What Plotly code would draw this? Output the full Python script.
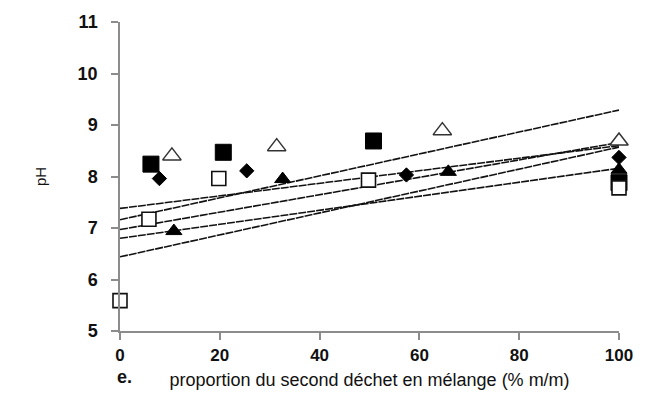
import plotly.graph_objects as go

# Data
x_fsq = [6.2, 20.7, 50.8, 100]
y_fsq = [8.24, 8.47, 8.69, 7.88]

x_otri = [10.4, 31.4, 64.6, 100]
y_otri = [8.40, 8.58, 8.89, 8.69]

x_dia = [7.9, 25.4, 57.4, 100]
y_dia = [7.96, 8.11, 8.03, 8.37]

x_ftri = [10.8, 32.6, 65.8, 100]
y_ftri = [6.94, 7.95, 8.09, 8.13]

x_osq = [0, 5.8, 19.8, 49.8, 100]
y_osq = [5.59, 7.17, 7.96, 7.93, 7.78]

# trend lines: value at x=0 and x=100
line_x = [0, 100]
trend_lines = [
    [7.16, 9.29],
    [7.38, 8.60],
    [6.97, 8.66],
    [6.80, 8.16],
    [6.44, 8.57],
]

x_ticks = [0, 20, 40, 60, 80, 100]
y_ticks = [5, 6, 7, 8, 9, 10, 11]

fig = go.Figure()

for ys in trend_lines:
    fig.add_trace(go.Scatter(x=line_x, y=ys, mode="lines",
                             line=dict(color="#111", width=1.6, dash="8px,1px"),
                             showlegend=False, hoverinfo="skip"))

fig.add_trace(go.Scatter(x=x_fsq, y=y_fsq, mode="markers",
                         marker=dict(symbol="square", size=16, color="black",
                                     line=dict(color="black", width=1))))
fig.add_trace(go.Scatter(x=x_ftri, y=y_ftri, mode="markers",
                         marker=dict(symbol="triangle-up", size=14, color="black",
                                     line=dict(color="black", width=1))))
fig.add_trace(go.Scatter(x=x_dia, y=y_dia, mode="markers",
                         marker=dict(symbol="diamond", size=11, color="black",
                                     line=dict(color="black", width=1))))
fig.add_trace(go.Scatter(x=x_osq, y=y_osq, mode="markers",
                         marker=dict(symbol="square", size=14, color="white",
                                     line=dict(color="#111", width=1.6))))
fig.add_trace(go.Scatter(x=x_otri, y=y_otri, mode="markers",
                         marker=dict(symbol="triangle-up", size=16, color="white",
                                     line=dict(color="#333", width=1.5))))

for tr in fig.data:
    tr.cliponaxis = False

fig.update_layout(
    width=638, height=393,
    margin=dict(l=112, r=27, t=14, b=70, autoexpand=False),
    paper_bgcolor="white", plot_bgcolor="white",
    showlegend=False,
    font=dict(family="Liberation Sans, Arial, sans-serif", color="#111"),
    xaxis=dict(range=[0, 100], tickvals=x_ticks, showgrid=False, zeroline=False,
               automargin=False,
               showline=True, linecolor="#8c8c8c", linewidth=1.5,
               ticks="outside", ticklen=7, tickwidth=1.5, tickcolor="#8c8c8c",
               tickfont=dict(size=17, weight="bold"), ticklabelstandoff=1,
               title=dict(text="proportion du second déchet en mélange (% m/m)",
                          font=dict(size=18), standoff=9)),
    yaxis=dict(range=[5, 11], tickvals=y_ticks, showgrid=False, zeroline=False,
               automargin=False,
               showline=True, linecolor="#8c8c8c", linewidth=1.5,
               ticks="outside", ticklen=7, tickwidth=1.5, tickcolor="#8c8c8c",
               tickfont=dict(size=18, weight="bold"), ticklabelstandoff=10,
               title=dict(text="pH", font=dict(size=15), standoff=27)),
)

fig.add_annotation(text="<b>e.</b>", xref="paper", yref="paper", x=0.028, y=-0.148,
                   xanchor="right", yanchor="middle", showarrow=False,
                   font=dict(size=18, color="#111"))

fig.write_html("out.html")
